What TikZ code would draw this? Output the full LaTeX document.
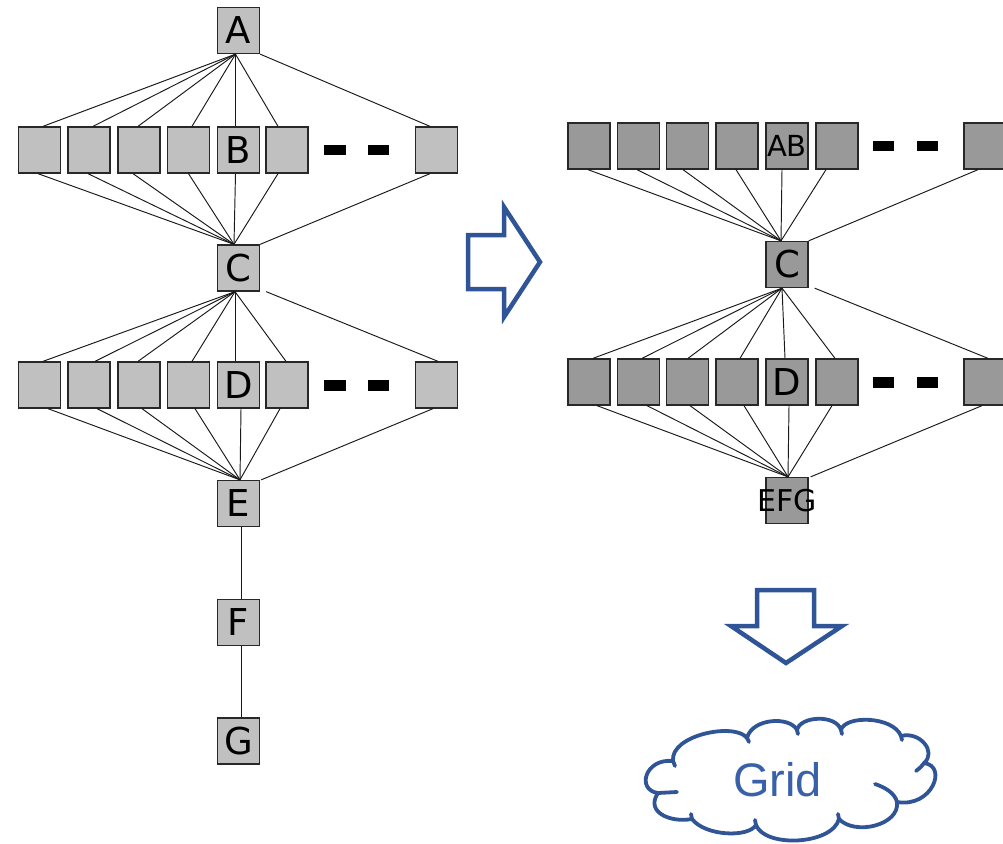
\documentclass[tikz,border=0pt]{standalone}
\usepackage{fontspec}
\newfontfamily\dvfont{DejaVu Sans}
\newfontfamily\arialfont{Liberation Sans}
\definecolor{lfill}{RGB}{192,192,192}
\definecolor{rfill}{RGB}{153,153,153}
\definecolor{bedge}{RGB}{40,40,40}
\definecolor{pblue}{RGB}{47,85,151}
\definecolor{tblue}{RGB}{56,97,170}
\tikzset{
 box/.style={draw=bedge, line width=1.3pt, minimum width=42pt, minimum height=46pt, inner sep=0pt, font=\dvfont\fontsize{37}{40}\selectfont},
 lbox/.style={box, fill=lfill},
 rbox/.style={box, fill=rfill},
 conn/.style={draw=black!90, line width=0.95pt},
 dashbar/.style={fill=black},
 bigarrow/.style={draw=pblue, line width=4.5pt, line join=miter, miter limit=10},
 cloudline/.style={draw=pblue, line width=3.8pt, line join=round, line cap=round},
}
\begin{document}
\begin{tikzpicture}[x=1pt,y=-1pt]
\useasboundingbox (0,0) rectangle (1003,843);
% ---------- left diagram ----------
\node[lbox] (A) at (238.5,30.5) {A};
\node[lbox] (lb1) at (39.5,150) {};
\node[lbox] (lb2) at (89,150) {};
\node[lbox] (lb3) at (139,150) {};
\node[lbox] (lb4) at (188.5,150) {};
\node[lbox] (B) at (238.5,150) {B};
\node[lbox] (lb6) at (287,150) {};
\node[lbox] (lb7) at (436.5,150) {};
\node[lbox] (C) at (238.5,268) {C};
\node[lbox] (ld1) at (39.5,385) {};
\node[lbox] (ld2) at (89,385) {};
\node[lbox] (ld3) at (139,385) {};
\node[lbox] (ld4) at (188.5,385) {};
\node[lbox] (D) at (238.5,385) {D};
\node[lbox] (ld6) at (287,385) {};
\node[lbox] (ld7) at (436.5,385) {};
\node[lbox] (E) at (238.5,503.5) {E};
\node[lbox] (F) at (238.5,622.5) {F};
\node[lbox] (G) at (238.5,741) {G};
\fill[dashbar] (324,145) rectangle (346,155);
\fill[dashbar] (368,145) rectangle (389,155);
\fill[dashbar] (324,380) rectangle (346,391);
\fill[dashbar] (368,380) rectangle (389,391);
% A -> B row
\foreach \n/\s in {lb1/3.5, lb2/4, lb3/-1, lb4/3.5, B/-3, lb6/-9}
  \draw[conn] ([xshift=-3pt]A.south) -- ([xshift=\s pt]\n.north);
\draw[conn] (A.south east) -- ([xshift=-6.5pt]lb7.north);
% B row -> C
\foreach \n/\s in {lb1/-1.5, lb2/-1, lb3/-6, lb4/0, B/-3, lb6/-9}
  \draw[conn] ([xshift=\s pt]\n.south) -- ([xshift=-4.5pt]C.north);
\draw[conn] ([xshift=-6.5pt]lb7.south) -- (C.north east);
% C -> D row
\foreach \n/\s in {ld1/3.5, ld2/6, ld3/-1, ld4/3.5, D/-3.5, ld6/-1}
  \draw[conn] ([xshift=-3.5pt]C.south) -- ([xshift=\s pt]\n.north);
\draw[conn] ([xshift=6pt]C.south east) -- ([xshift=1.5pt]ld7.north);
% D row -> E
\foreach \n/\s in {ld1/8.5, ld2/8, ld3/3, ld4/6.5, D/2.5, ld6/-7}
  \draw[conn] ([xshift=\s pt]\n.south) -- ([xshift=1.5pt]E.north);
\draw[conn] ([xshift=-3.5pt]ld7.south) -- ([xshift=1pt]E.north east);
% E -> F -> G
\draw[conn] ([xshift=2.5pt]E.south) -- ([xshift=2.5pt]F.north);
\draw[conn] ([xshift=2.5pt]F.south) -- ([xshift=2.5pt]G.north);
% ---------- right diagram ----------
\node[rbox] (rt1) at (589,146) {};
\node[rbox] (rt2) at (638.5,146) {};
\node[rbox] (rt3) at (687.5,146) {};
\node[rbox] (rt4) at (737,146) {};
\node[rbox, font=\dvfont\fontsize{29}{32}\selectfont] (AB) at (787,146) {AB};
\node[rbox] (rt6) at (837,146) {};
\node[rbox] (rt7) at (985,146) {};
\node[rbox] (RC) at (787,264.5) {C};
\node[rbox] (rd1) at (589,382) {};
\node[rbox] (rd2) at (638.5,382) {};
\node[rbox] (rd3) at (687.5,382) {};
\node[rbox] (rd4) at (737,382) {};
\node[rbox] (RD) at (787,382) {D};
\node[rbox] (rd6) at (837,382) {};
\node[rbox] (rd7) at (985,382) {};
\node[rbox, label={[font=\dvfont\fontsize{30}{32}\selectfont, inner sep=0pt]center:EFG}] (EFG) at (787,500.5) {};
\fill[dashbar] (873,141) rectangle (894,151);
\fill[dashbar] (917,141) rectangle (938,151);
\fill[dashbar] (873,377) rectangle (894,388);
\fill[dashbar] (917,377) rectangle (938,388);
% top row -> C
\foreach \n/\s in {rt1/-1, rt2/-1.5, rt3/-4.5, rt4/-1, AB/-5, rt6/-11}
  \draw[conn] ([xshift=\s pt]\n.south) -- ([xshift=-6pt]RC.north);
\draw[conn] ([xshift=-7pt]rt7.south) -- (RC.north east);
% C -> D row
\foreach \n/\s in {rd1/4, rd2/3.5, rd3/0.5, rd4/3, RD/-2, rd6/-2}
  \draw[conn] ([xshift=-5pt]RC.south) -- ([xshift=\s pt]\n.north);
\draw[conn] ([xshift=6pt]RC.south east) -- ([xshift=3pt]rd7.north);
% D row -> EFG
\foreach \n/\s in {rd1/8, rd2/8.5, rd3/2.5, rd4/7, RD/2, rd6/-5}
  \draw[conn] ([xshift=\s pt]\n.south) -- ([xshift=1pt]EFG.north);
\draw[conn] ([xshift=-3pt]rd7.south) -- ([xshift=2pt]EFG.north east);
% ---------- blue arrows ----------
\draw[bigarrow] (468,235) -- (504,235) -- (504,207) -- (540,262) -- (504,317) -- (504,289) -- (468,289) -- cycle;
\draw[bigarrow] (757,590) -- (814,590) -- (814,626) -- (842,626) -- (786,663) -- (731,626) -- (757,626) -- cycle;
% ---------- cloud ----------
\draw[cloudline] (658,793)
  .. controls (636,790) and (645,758) .. (673,761)
  .. controls (670,735) and (735,722) .. (747,738)
  .. controls (752,718) and (790,716) .. (797,730)
  .. controls (800,716) and (836,714) .. (841,730)
  .. controls (845,715) and (893,716) .. (901,736)
  .. controls (920,731) and (937,752) .. (924,763)
  .. controls (948,766) and (932,808) .. (897,802)
  .. controls (900,825) and (855,836) .. (839,819)
  .. controls (832,845) and (765,848) .. (756,825)
  .. controls (748,838) and (705,836) .. (692,819)
  .. controls (670,823) and (645,812) .. (658,793) -- cycle;
\draw[cloudline] (658,793) -- (677,792);
\draw[cloudline] (673,761) -- (675,766);
\draw[cloudline] (747,738) -- (749,742);
\draw[cloudline] (797,730) -- (798,734);
\draw[cloudline] (841,730) -- (842,734);
\draw[cloudline] (901,736) -- (902,740);
\draw[cloudline] (924,763) .. controls (921,767) .. (916,771);
\draw[cloudline] (875,784) .. controls (887,788) and (895,794) .. (897,802);
\draw[cloudline] (839,819) -- (838,814);
\draw[cloudline] (756,825) -- (755,820);
\draw[cloudline] (692,819) -- (691,814);
\node[font=\arialfont\fontsize{47}{50}\selectfont, text=tblue, inner sep=0pt] (grid) at (777.5,779.5) {Grid};
\end{tikzpicture}
\end{document}
